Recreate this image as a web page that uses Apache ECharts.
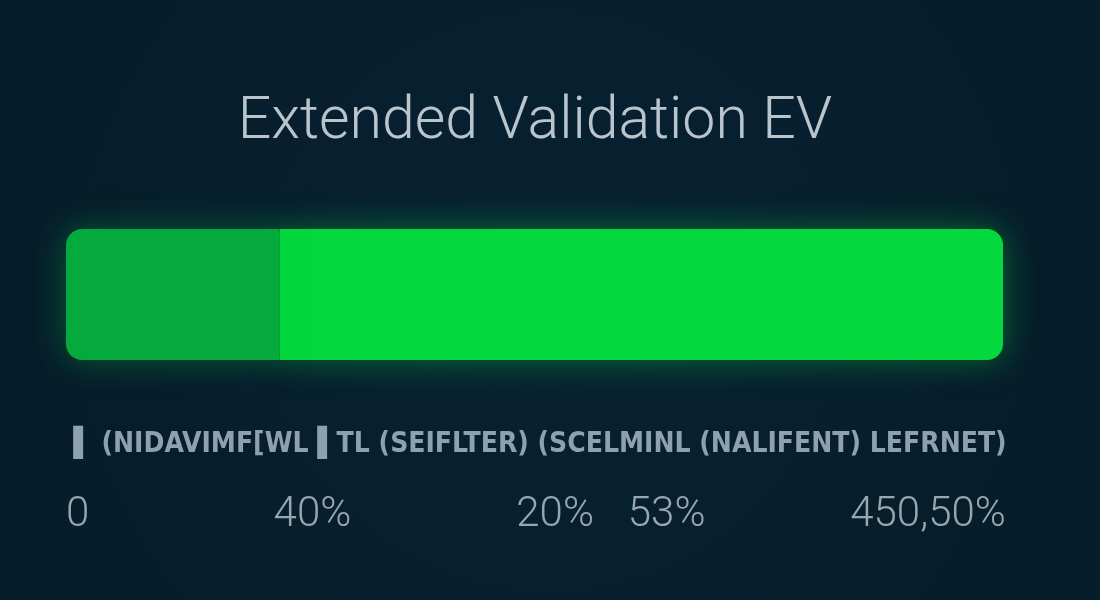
<!DOCTYPE html>
<html>
<head>
<meta charset="utf-8">
<style>
  html, body { margin: 0; padding: 0; background: #07202f; }
  #chart { width: 1100px; height: 600px; }
</style>
<script src="https://cdn.jsdelivr.net/npm/echarts@6/dist/echarts.min.js"></script>
</head>
<body>
<div id="chart"></div>
<script>
// ---- data ----
const titleText = 'Extended Validation EV';
const categories = ['EV'];
const segmentNames = ['Validated', 'Remaining'];
const segmentA = [22.8];
const segmentB = [77.2];
const labelRow = '▌ (NIDAVIMF[WL ▌TL (SEIFLTER) (SCELMINL (NALIFENT) LEFRNET)';
const tickValues = [0, 26.3, 52.2, 64.1, 92.0];
const tickLabels = ['0', '40%', '20%', '53%', '450,50%'];

const chart = echarts.init(document.getElementById('chart'));
const labelMap = {};
tickValues.forEach((v, i) => { labelMap[v] = tickLabels[i]; });

chart.setOption({
  backgroundColor: {
    type: 'radial', x: 0.5, y: 0.5, r: 0.8,
    colorStops: [{ offset: 0, color: '#082232' }, { offset: 1, color: '#061d2b' }]
  },
  title: [
    {
      text: titleText,
      left: 530, textAlign: 'center',
      top: 89,
      textStyle: { color: '#b9c4cc', fontFamily: 'Roboto', fontWeight: 300, fontSize: 59 }
    },
    {
      text: labelRow,
      left: 535, textAlign: 'center',
      top: 426,
      textStyle: {
        color: '#8ea1ae', fontFamily: "'DejaVu Sans Condensed', sans-serif",
        fontWeight: 'bold', fontSize: 28
      }
    }
  ],
  grid: { left: 66, right: 97, top: 229, bottom: 240 },
  xAxis: {
    type: 'value', min: 0, max: 100,
    splitLine: { show: false },
    axisLine: { show: false },
    axisTick: { show: false },
    axisLabel: {
      customValues: tickValues,
      formatter: v => labelMap[v] !== undefined ? labelMap[v] : '',
      margin: 134,
      alignMinLabel: 'left',
      color: '#98a6b0', fontFamily: 'Roboto', fontWeight: 300, fontSize: 42,
      showMinLabel: true, showMaxLabel: true
    }
  },
  yAxis: {
    type: 'category', data: categories,
    axisLine: { show: false }, axisTick: { show: false }, axisLabel: { show: false }
  },
  series: [
    {
      name: segmentNames[0], type: 'bar', stack: 'ev', data: segmentA,
      barWidth: 131, z: 3,
      itemStyle: {
        color: '#04aa3c', borderRadius: [16, 0, 0, 16],
        shadowBlur: 34, shadowColor: 'rgba(0, 210, 70, 0.35)'
      },
      silent: true
    },
    {
      name: segmentNames[1], type: 'bar', stack: 'ev', data: segmentB,
      barWidth: 131, z: 2,
      itemStyle: {
        color: '#03d83c', borderRadius: [0, 16, 16, 0],
        shadowBlur: 34, shadowColor: 'rgba(0, 230, 70, 0.4)'
      },
      silent: true
    }
  ],
  animation: false
});
</script>
</body>
</html>
